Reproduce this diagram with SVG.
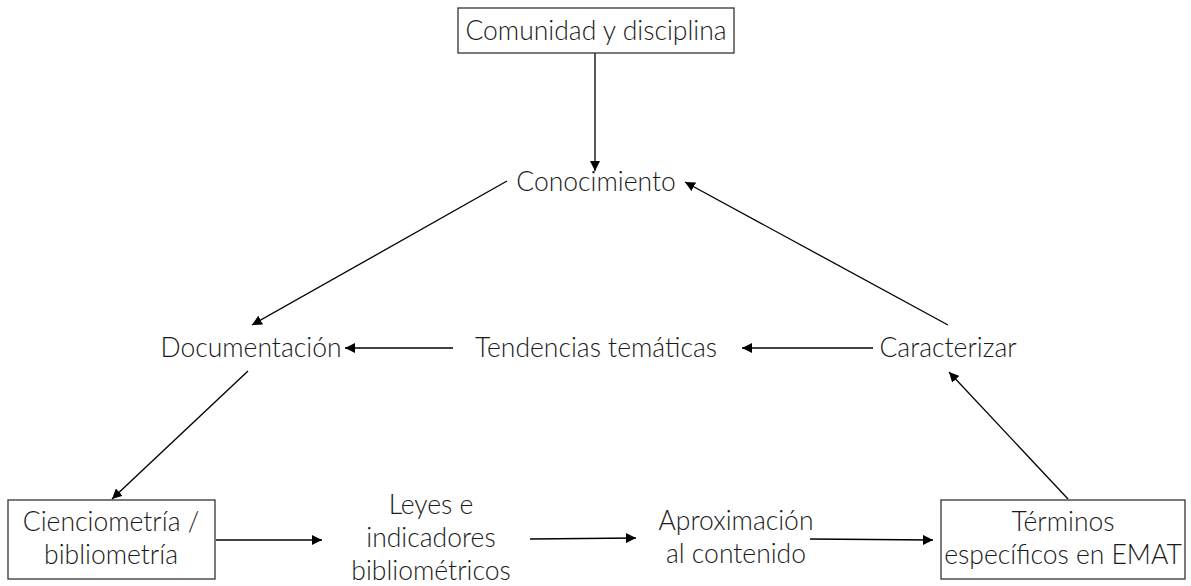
<svg xmlns="http://www.w3.org/2000/svg" width="1191" height="586" viewBox="0 0 1191 586">
<style>
text{font-family:Lato,"Open Sans","Liberation Sans",sans-serif;font-weight:300;font-size:26.5px;fill:#1a1a1a;text-anchor:middle}
.box{fill:#fff;stroke:#333;stroke-width:1.3}
.c{stroke:#000;stroke-width:1.3;fill:none;marker-end:url(#ah)}
</style>
<defs>
<marker id="ah" viewBox="0 0 10 10" refX="10" refY="5" markerWidth="10" markerHeight="10" markerUnits="userSpaceOnUse" orient="auto">
<path d="M0,0 L10,5 L0,10 Z" fill="#000"/>
</marker>
</defs>
<rect width="1191" height="586" fill="#fff"/>
<g id="connectors">
<line class="c" x1="595" y1="53" x2="595" y2="171"/>
<line class="c" x1="507" y1="181" x2="252" y2="325"/>
<line class="c" x1="948" y1="325" x2="685" y2="182"/>
<line class="c" x1="453" y1="348" x2="345" y2="348"/>
<line class="c" x1="873" y1="348" x2="742" y2="348"/>
<line class="c" x1="248" y1="371" x2="112" y2="499"/>
<line class="c" x1="216" y1="540" x2="322" y2="540"/>
<line class="c" x1="530" y1="539" x2="636" y2="538"/>
<line class="c" x1="810" y1="539" x2="933" y2="540"/>
<line class="c" x1="1068" y1="499" x2="949" y2="372"/>
</g>
<g id="n-comunidad">
<rect class="box" x="458" y="8" width="276" height="45"/>
<text x="596" y="40">Comunidad y disciplina</text>
</g>
<g id="n-conocimiento"><text x="596" y="191">Conocimiento</text></g>
<g id="n-documentacion"><text x="251" y="357">Documentación</text></g>
<g id="n-tendencias"><text x="596" y="357">Tendencias temáticas</text></g>
<g id="n-caracterizar"><text x="948" y="357">Caracterizar</text></g>
<g id="n-cienciometria">
<rect class="box" x="8" y="500" width="207" height="79"/>
<text x="111" y="531">Cienciometría /</text>
<text x="111" y="564">bibliometría</text>
</g>
<g id="n-leyes">
<text x="431" y="514">Leyes e</text>
<text x="431" y="547">indicadores</text>
<text x="431" y="580">bibliométricos</text>
</g>
<g id="n-aproximacion">
<text x="736" y="530">Aproximación</text>
<text x="736" y="563">al contenido</text>
</g>
<g id="n-terminos">
<rect class="box" x="941" y="500" width="244" height="79"/>
<text x="1063" y="531">Términos</text>
<text x="1063" y="564">específicos en EMAT</text>
</g>
</svg>
